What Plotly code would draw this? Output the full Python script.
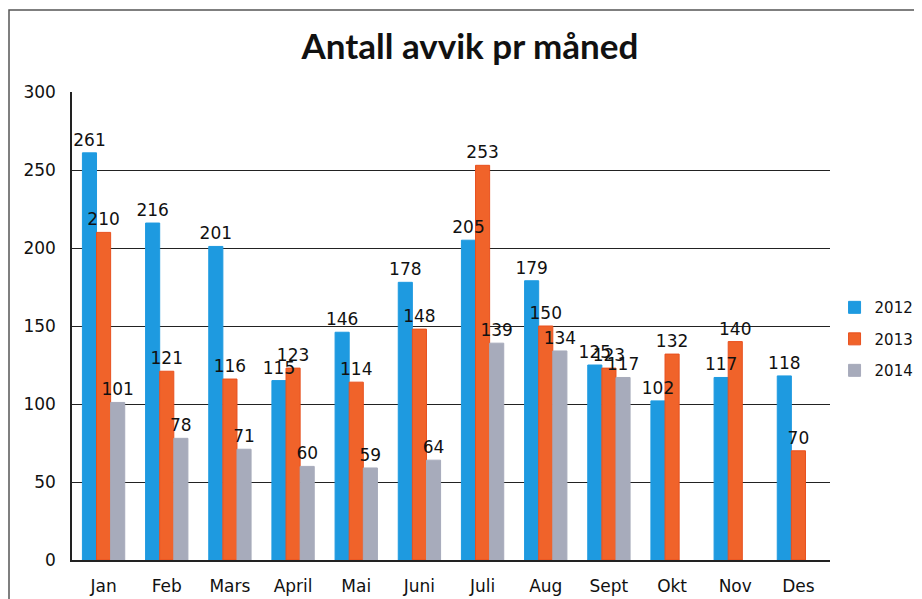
import plotly.graph_objects as go

months = ["Jan", "Feb", "Mars", "April", "Mai", "Juni", "Juli", "Aug", "Sept", "Okt", "Nov", "Des"]
series_names = ["2012", "2013", "2014"]
v2012 = [261, 216, 201, 115, 146, 178, 205, 179, 125, 102, 117, 118]
v2013 = [210, 121, 116, 123, 114, 148, 253, 150, 123, 132, 140, 70]
v2014 = [101, 78, 71, 60, 59, 64, 139, 134, 117, None, None, None]
y_ticks = [0, 50, 100, 150, 200, 250, 300]

colors = ["#1E9AE0", "#F0632A", "#A7ABBB"]
edge_colors = ["#1E9AE0", "#E8501E", "#A7ABBB"]
values = [v2012, v2013, v2014]

fig = go.Figure()
# bars
for i, (name, vals, col, ec) in enumerate(zip(series_names, values, colors, edge_colors)):
    fig.add_trace(go.Bar(
        x=months, y=vals, name=name, legendgroup=name, offsetgroup=str(i),
        marker=dict(color=col, line=dict(width=1, color=ec)),
        hoverinfo="x+y+name",
    ))
# value labels drawn on top of all bars
for i, (name, vals) in enumerate(zip(series_names, values)):
    fig.add_trace(go.Bar(
        x=months, y=vals, name=name, legendgroup=name, offsetgroup=str(i),
        showlegend=False, hoverinfo="skip",
        marker=dict(color="rgba(0,0,0,0)", line=dict(width=0)),
        text=[("" if v is None else str(v)) for v in vals],
        textposition="outside", constraintext="none", cliponaxis=False,
        textfont=dict(family="DejaVu Sans", size=17, color="#111111"),
    ))

fig.update_layout(
    width=922, height=599,
    paper_bgcolor="white", plot_bgcolor="white",
    margin=dict(l=64, r=100, t=84, b=47, autoexpand=False),
    barmode="group", bargap=0.33, bargroupgap=0,
    title=dict(text="<b>Antall avvik pr måned</b>", x=0.501, xanchor="center",
               y=0.935, yanchor="middle",
               font=dict(family="Lato", size=35, color="#111111")),
    font=dict(family="DejaVu Sans", size=17, color="#111111"),
    showlegend=True,
    legend=dict(x=1.006, xanchor="left", y=0.472, yanchor="middle",
                traceorder="grouped", tracegroupgap=9,
                font=dict(family="DejaVu Sans", size=15, color="#111111"),
                itemwidth=30, bgcolor="rgba(0,0,0,0)"),
    xaxis=dict(showline=True, linecolor="#222222", linewidth=1.5,
               ticks="", tickfont=dict(family="DejaVu Sans", size=17),
               ticklabelstandoff=10, showgrid=False),
    yaxis=dict(range=[0, 300], tickvals=y_ticks, showline=True,
               linecolor="#222222", linewidth=1.5, showgrid=True,
               gridcolor="#222222", gridwidth=1, ticks="",
               tickfont=dict(family="DejaVu Sans", size=17),
               ticklabelstandoff=11, zeroline=False),
    shapes=[dict(type="rect", xref="paper", yref="paper",
                 x0=(1 - 64) / 758, x1=(930 - 64) / 758,
                 y0=(552 - 620) / 468, y1=(552 - 2) / 468,
                 line=dict(color="#555555", width=1.5), fillcolor="rgba(0,0,0,0)",
                 layer="below")],
)

fig.write_html("out.html")
